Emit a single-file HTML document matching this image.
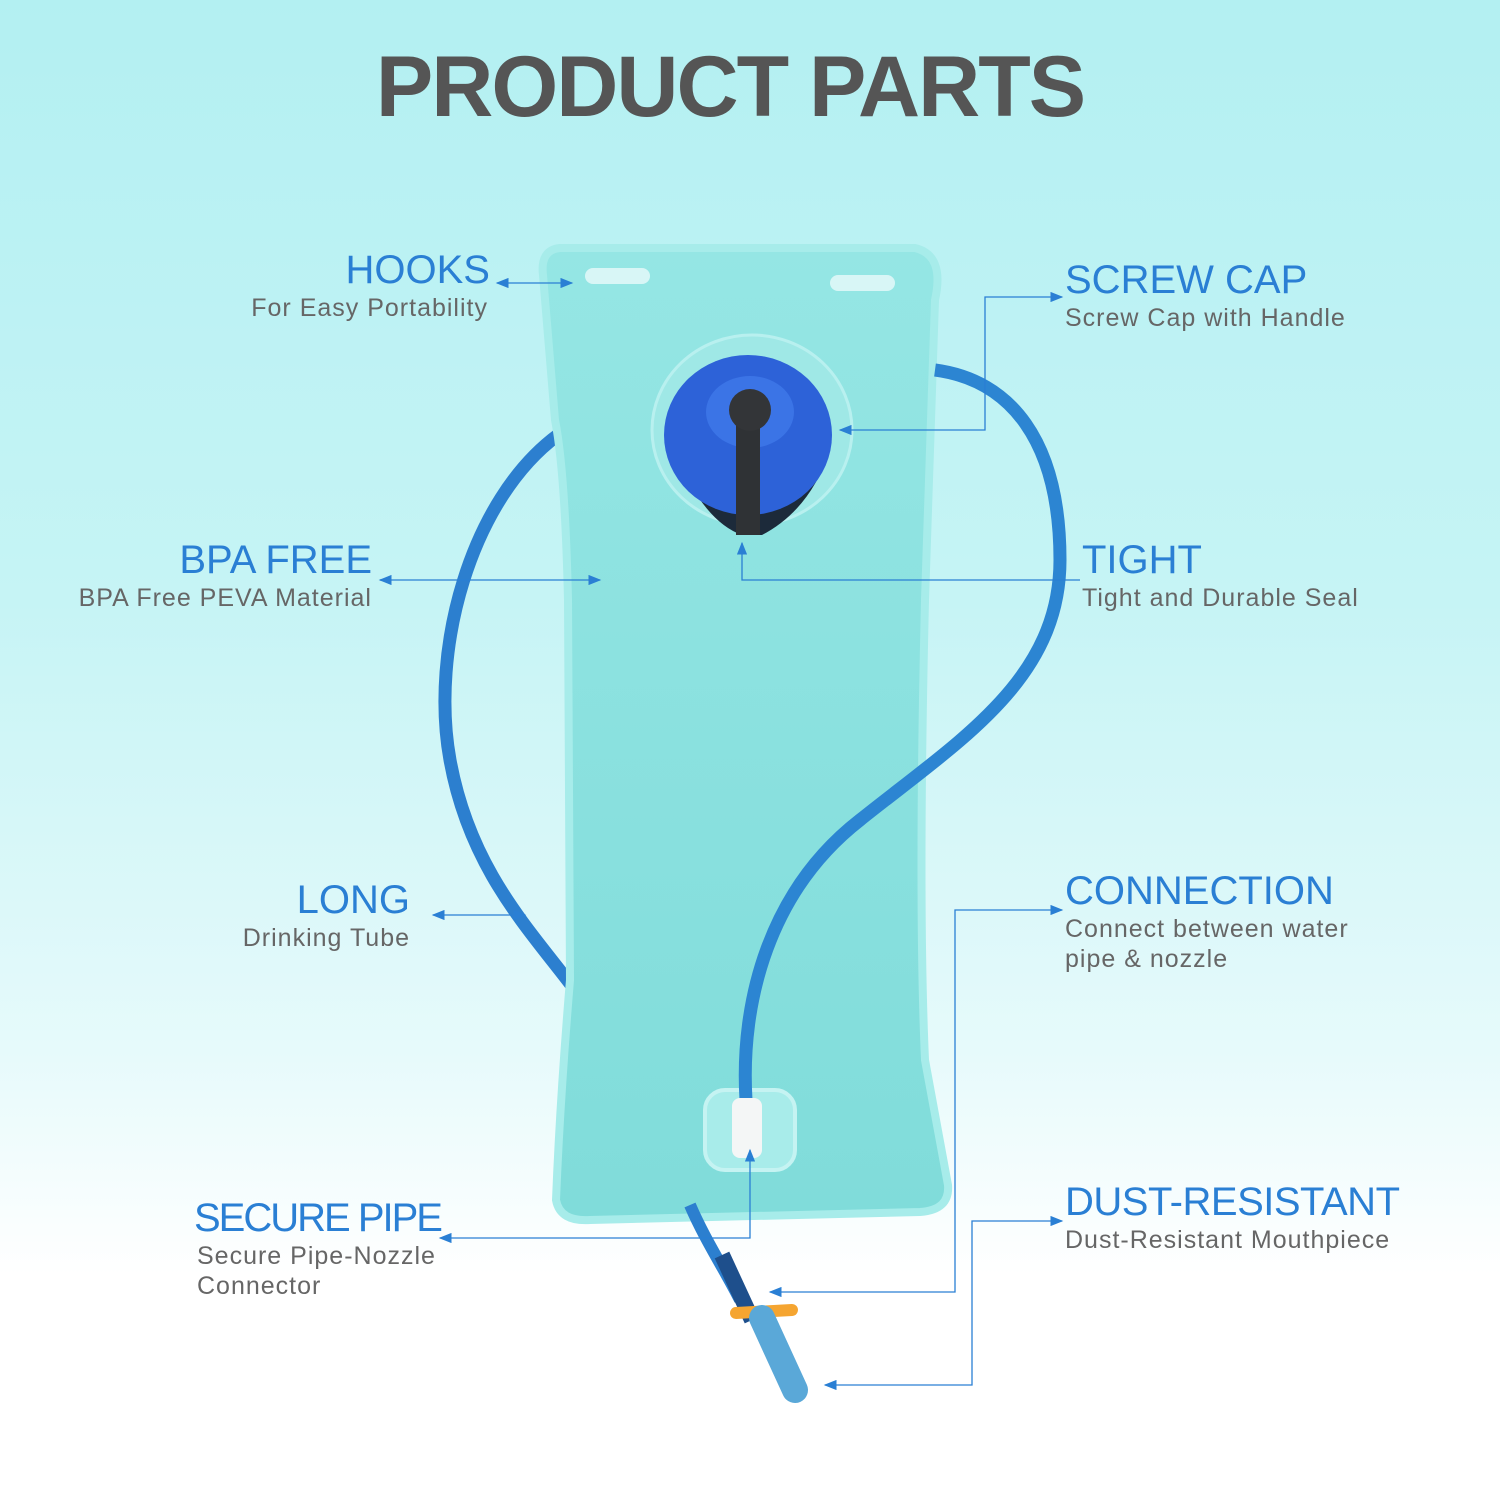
<!DOCTYPE html>
<html><head><meta charset="utf-8"><style>
body{margin:0}
#p{position:relative;width:1500px;height:1500px;overflow:hidden;background:linear-gradient(180deg,#b3f0f2 0%,#c6f4f5 40%,#e6fafb 70%,#ffffff 85%);font-family:"Liberation Sans",sans-serif}
.t{position:absolute;white-space:nowrap}
.h{color:#2a7fd4;font-size:40px;line-height:40px}
.s{color:#666;font-size:25px;line-height:30px;letter-spacing:1px}
.r{text-align:right}
</style></head><body><div id="p">
<svg width="1500" height="1500" style="position:absolute;left:0;top:0">
<defs>
<marker id="a" markerWidth="10" markerHeight="8" refX="9" refY="4" orient="auto-start-reverse"><path d="M0,0 L10,4 L0,8z" fill="#2a7fd4"/></marker>
<linearGradient id="bg" x1="0" y1="0" x2="0" y2="1"><stop offset="0" stop-color="#95e6e4"/><stop offset="1" stop-color="#80dcda"/></linearGradient>
</defs>
<path d="M558,435 C470,500 430,650 450,760 C470,870 530,930 575,990" fill="none" stroke="#2c7fcf" stroke-width="13"/>
<path d="M560,248 Q540,250 543,275 L555,420 Q565,470 568,600 L570,980 Q560,1100 556,1200 Q560,1222 590,1220 L920,1212 Q950,1210 948,1185 L925,1060 Q918,900 925,600 L935,300 Q945,255 915,248 Z" fill="url(#bg)" stroke="#a7ecea" stroke-width="8"/>
<rect x="585" y="268" width="65" height="16" rx="8" fill="#d8f6f6"/>
<rect x="830" y="275" width="65" height="16" rx="8" fill="#d8f6f6"/>
<rect x="705" y="1090" width="90" height="80" rx="20" fill="#a8ecea" stroke="#c5f3f2" stroke-width="4"/>
<ellipse cx="752" cy="430" rx="100" ry="95" fill="#9fe8e6" stroke="#b8f0ef" stroke-width="3"/>
<path d="M670,440 Q700,520 742,535 L762,535 Q810,510 830,450 Z" fill="#1c2a3a"/>
<ellipse cx="748" cy="435" rx="84" ry="80" fill="#2d62d8"/>
<ellipse cx="750" cy="412" rx="44" ry="36" fill="#3b74e6"/>
<rect x="736" y="410" width="24" height="125" fill="#2f3235"/>
<circle cx="750" cy="410" r="21" fill="#333538"/>
<path d="M935,370 C1010,380 1060,440 1060,560 C1060,680 960,740 860,820 C770,890 740,1000 746,1100" fill="none" stroke="#2c85d2" stroke-width="13"/>
<rect x="732" y="1098" width="30" height="60" rx="8" fill="#f4f6f6"/>
<path d="M690,1205 C705,1240 725,1270 740,1300" fill="none" stroke="#2c7fcf" stroke-width="12"/>
<path d="M722,1255 L752,1320" stroke="#1e4f8c" stroke-width="16"/>
<path d="M736,1313 L792,1310" stroke="#f5a531" stroke-width="12" stroke-linecap="round"/>
<path d="M762,1318 L795,1390" stroke="#5aa8d8" stroke-width="26" stroke-linecap="round"/>
<g fill="none" stroke="#2a7fd4" stroke-width="1.3">
<path d="M497,283 H572" marker-start="url(#a)" marker-end="url(#a)"/>
<path d="M1062,297 H985 V430 H840" marker-start="url(#a)" marker-end="url(#a)"/>
<path d="M380,580 H600" marker-start="url(#a)" marker-end="url(#a)"/>
<path d="M1080,580 H742 V543" marker-end="url(#a)"/>
<path d="M433,915 H525" marker-start="url(#a)" marker-end="url(#a)"/>
<path d="M1062,910 H955 V1292 H770" marker-start="url(#a)" marker-end="url(#a)"/>
<path d="M440,1238 H750 V1150" marker-start="url(#a)" marker-end="url(#a)"/>
<path d="M1062,1221 H972 V1385 H825" marker-start="url(#a)" marker-end="url(#a)"/>
</g>
</svg>
<div class="t" style="left:0;width:1460px;text-align:center;top:38px;font-size:86px;font-weight:bold;color:#555;letter-spacing:-2px">PRODUCT PARTS</div>
<div class="t h r" style="right:1010px;top:250px">HOOKS</div>
<div class="t s r" style="right:1012px;top:293px">For Easy Portability</div>
<div class="t h" style="left:1065px;top:260px">SCREW CAP</div>
<div class="t s" style="left:1065px;top:303px">Screw Cap with Handle</div>
<div class="t h r" style="right:1128px;top:540px">BPA FREE</div>
<div class="t s r" style="right:1128px;top:583px">BPA Free PEVA Material</div>
<div class="t h" style="left:1082px;top:540px">TIGHT</div>
<div class="t s" style="left:1082px;top:583px">Tight and Durable Seal</div>
<div class="t h r" style="right:1090px;top:880px">LONG</div>
<div class="t s r" style="right:1090px;top:923px">Drinking Tube</div>
<div class="t h" style="left:1065px;top:871px">CONNECTION</div>
<div class="t s" style="left:1065px;top:914px">Connect between water<br>pipe &amp; nozzle</div>
<div class="t h" style="left:194px;top:1198px;letter-spacing:-2px">SECURE PIPE</div>
<div class="t s" style="left:197px;top:1241px">Secure Pipe-Nozzle<br>Connector</div>
<div class="t h" style="left:1065px;top:1182px;letter-spacing:-0.5px">DUST-RESISTANT</div>
<div class="t s" style="left:1065px;top:1225px">Dust-Resistant Mouthpiece</div>
</div></body></html>
